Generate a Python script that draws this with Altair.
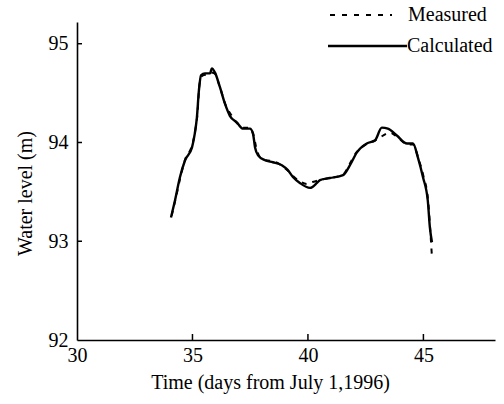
import altair as alt
import pandas as pd

# Calculated series (days, water level m)
calc_t = [34.07, 34.24, 34.46, 34.68, 34.98, 35.10, 35.19, 35.28, 35.37, 35.54, 35.76, 35.84,
          35.97, 36.19, 36.41, 36.62, 36.93, 37.19, 37.49, 37.62, 37.71, 37.84, 38.14, 38.48,
          38.87, 39.13, 39.35, 39.65, 40.09, 40.39, 40.52, 40.95, 41.52, 41.82, 42.12, 42.55,
          42.90, 43.20, 43.46, 43.85, 44.29, 44.55, 44.76, 44.98, 45.19, 45.28, 45.37]
calc_h = [93.24, 93.41, 93.65, 93.82, 93.95, 94.09, 94.25, 94.53, 94.68, 94.70, 94.70, 94.75,
          94.71, 94.56, 94.39, 94.27, 94.20, 94.14, 94.14, 94.09, 93.95, 93.87, 93.82, 93.80,
          93.77, 93.72, 93.65, 93.59, 93.54, 93.59, 93.62, 93.64, 93.67, 93.77, 93.90, 93.99,
          94.02, 94.15, 94.14, 94.07, 93.99, 93.99, 93.85, 93.65, 93.41, 93.14, 92.99]

# Measured series
meas_t = [34.10, 34.30, 34.50, 34.70, 34.95, 35.12, 35.22, 35.30, 35.40, 35.60, 35.80, 35.95,
          36.20, 36.45, 36.70, 36.95, 37.20, 37.45, 37.65, 37.75, 37.90, 38.20, 38.50, 38.90,
          39.15, 39.40, 39.70, 39.95, 40.20, 40.50, 40.90, 41.50, 41.80, 42.10, 42.50, 42.90,
          43.25, 43.55, 43.90, 44.30, 44.55, 44.78, 45.00, 45.20, 45.30, 45.37]
meas_h = [93.26, 93.46, 93.67, 93.84, 93.95, 94.12, 94.30, 94.58, 94.67, 94.69, 94.71, 94.70,
          94.55, 94.37, 94.27, 94.19, 94.15, 94.15, 94.07, 93.96, 93.86, 93.82, 93.81, 93.76,
          93.71, 93.65, 93.60, 93.58, 93.60, 93.62, 93.64, 93.67, 93.78, 93.90, 93.98, 94.02,
          94.07, 94.10, 94.05, 93.98, 93.98, 93.84, 93.66, 93.42, 93.10, 92.84]

x_ticks = [30, 35, 40, 45]
y_ticks = [92, 93, 94, 95]

calc_df = pd.DataFrame({"t": calc_t, "h": calc_h})
meas_df = pd.DataFrame({"t": meas_t, "h": meas_h})

xs = alt.Scale(domain=[30, 48.1], nice=False, zero=False)
ys = alt.Scale(domain=[92, 95.22], nice=False, zero=False)

FONT = "Liberation Serif"
FS = 20

x_enc = alt.X("t:Q", scale=xs, axis=alt.Axis(
    values=x_ticks, format="d", title="Time (days from July 1,1996)", tickSize=0, labelPadding=5,
    labelFlush=False, labelFont=FONT, labelFontSize=FS, labelColor="black",
    titleFont=FONT, titleFontSize=FS, titleColor="black",
    titleX=193, titleY=32, titleFontWeight="normal"))
y_enc = alt.Y("h:Q", scale=ys, axis=alt.Axis(
    values=y_ticks, format="d", title="Water level (m)", tickSize=0, labelPadding=9,
    labelFlush=False, labelFont=FONT, labelFontSize=FS, labelColor="black",
    titleFont=FONT, titleFontSize=FS, titleColor="black",
    titleX=-52, titleY=171, titleAngle=-90, titleBaseline="middle", titleFontWeight="normal"))

calc_line = alt.Chart(calc_df).mark_line(color="black", strokeWidth=2.4, interpolate="monotone").encode(
    x=x_enc, y=y_enc)
meas_line = alt.Chart(meas_df).mark_line(color="black", strokeWidth=2, strokeDash=[5, 6],
                                         interpolate="monotone").encode(x="t:Q", y="h:Q")

# inward ticks
ytick_df = pd.DataFrame({"v": y_ticks[1:]})
xtick_df = pd.DataFrame({"v": x_ticks[1:]})
ytick = alt.Chart(ytick_df).mark_rule(color="black", strokeWidth=1.5).encode(
    y=alt.Y("v:Q", scale=ys), x=alt.value(0), x2=alt.value(5))
xtick = alt.Chart(xtick_df).mark_rule(color="black", strokeWidth=1.5).encode(
    x=alt.X("v:Q", scale=xs), y=alt.value(318), y2=alt.value(312))

# legend
leg_names = ["Measured", "Calculated"]
leg1 = alt.Chart(pd.DataFrame({"n": [leg_names[0]]})).mark_rule(
    color="black", strokeWidth=2, strokeDash=[5, 7]).encode(
    x=alt.value(253), x2=alt.value(315), y=alt.value(-7))
leg2 = alt.Chart(pd.DataFrame({"n": [leg_names[1]]})).mark_rule(
    color="black", strokeWidth=2.4).encode(
    x=alt.value(251), x2=alt.value(330), y=alt.value(24))
legt1 = alt.Chart(pd.DataFrame({"n": [leg_names[0]]})).mark_text(
    align="left", baseline="middle", font=FONT, fontSize=FS, color="black").encode(
    text="n:N", x=alt.value(331), y=alt.value(-7))
legt2 = alt.Chart(pd.DataFrame({"n": [leg_names[1]]})).mark_text(
    align="left", baseline="middle", font=FONT, fontSize=FS, color="black").encode(
    text="n:N", x=alt.value(330), y=alt.value(24))

chart = alt.layer(calc_line, meas_line, ytick, xtick, leg1, leg2, legt1, legt2).properties(
    width=418, height=318,
    autosize=alt.AutoSizeParams(type="none"),
    padding={"left": 77, "top": 22, "right": 9, "bottom": 64},
).configure_view(stroke=None).configure_axis(
    grid=False, domainColor="black", domainWidth=1.6,
    labelFont=FONT, labelFontSize=FS, labelColor="black",
    titleFont=FONT, titleFontSize=FS, titleColor="black",
)

chart.save("out.html", embed_options={"renderer": "svg", "actions": False})
